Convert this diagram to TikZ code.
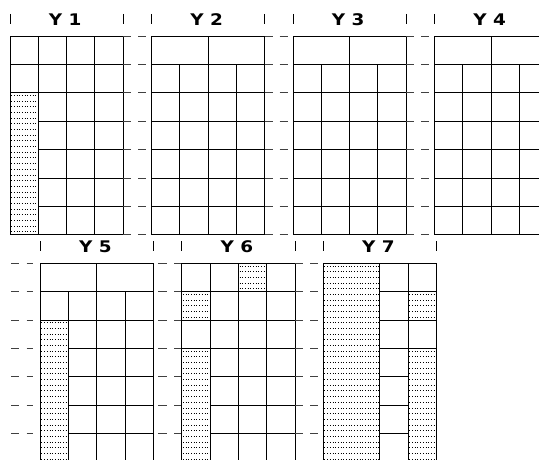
\documentclass[tikz,border=0pt]{standalone}
\usepackage{fontspec}
\setsansfont{DejaVu Sans}
\usepackage{graphicx}
\usepackage{tikz}

% dotted fill of a merged cell, in cell units
\newcommand\dotbox[4]{%
  \begin{scope}
    \clip (#1,#2) rectangle (#3,#4);
    \foreach \i [evaluate=\i as \yy using #2+0.09+0.2*\i] in {0,...,35}
      \draw[dots] (#1+0.04,\yy) -- (#3,\yy);
  \end{scope}}
% title with its two ticks
\newcommand\panelhead[1]{%
  \draw[lbltick] (0,-0.78) -- (0,-0.42) (4,-0.78) -- (4,-0.42);
  \node[lbl] (y#1) at (1.95,-0.58) {\scalebox{1.15}[1]{Y #1}};}

\begin{document}
\begin{tikzpicture}[x=1pt, y=-1pt,
  cell/.style={x=28.3pt, y=-28.4pt},
  ln/.style={line width=0.9pt},
  gapln/.style={line width=0.9pt, black!75},
  lbltick/.style={line width=0.9pt},
  dots/.style={line width=0.7pt, dash pattern=on 0.8pt off 1.9pt},
  lbl/.style={font=\sffamily\bfseries\fontsize{16}{16}\selectfont, inner sep=0pt}]
\useasboundingbox (0,0) rectangle (539,459);
\clip (0,0) rectangle (539,459);

% upper row
\begin{scope}[shift={(10,36)}, cell]
  \dotbox{0}{2}{1}{7}
  \draw[ln] (0,0) rectangle (4,7);
  \foreach \c in {1,2,3} \draw[ln] (\c,0) -- (\c,7);
  \foreach \r in {1,2} \draw[ln] (0,\r) -- (4,\r);
  \foreach \r in {3,...,6} \draw[ln] (1,\r) -- (4,\r);
  \panelhead{1}
\end{scope}
\foreach \k in {2,3,4} {
  \begin{scope}[shift={(10+141.5*\k-141.5,36)}, cell]
    \foreach \j in {0,...,7}
      \draw[gapln] (-1,\j) -- (-0.71,\j) (-0.47,\j) -- (-0.18,\j);
    \draw[ln] (0,0) rectangle (4,7) (2,0) -- (2,7);
    \foreach \c in {1,3} \draw[ln] (\c,1) -- (\c,7);
    \foreach \r in {1,...,6} \draw[ln] (0,\r) -- (4,\r);
    \panelhead{\k}
  \end{scope}
}

% lower row
\begin{scope}[shift={(40.3,263.3)}, cell]
  \foreach \j in {0,...,7}
    \draw[gapln] (-1.03,\j) -- (-0.74,\j) (-0.48,\j) -- (-0.25,\j);
  \dotbox{0}{2}{1}{7}
  \draw[ln] (0,0) rectangle (4,7) (2,0) -- (2,7) (1,1) -- (1,7) (3,1) -- (3,7);
  \foreach \r in {1,2} \draw[ln] (0,\r) -- (4,\r);
  \foreach \r in {3,...,6} \draw[ln] (1,\r) -- (4,\r);
  \panelhead{5}
\end{scope}
\begin{scope}[shift={(181.8,263.3)}, cell]
  \foreach \j in {0,...,7}
    \draw[gapln] (-0.83,\j) -- (-0.53,\j) (-0.27,\j) -- (0,\j);
  \dotbox{2}{0}{3}{1}
  \dotbox{0}{1}{1}{2}
  \dotbox{0}{3}{1}{7}
  \draw[ln] (0,0) rectangle (4,7);
  \foreach \c in {1,2,3} \draw[ln] (\c,0) -- (\c,7);
  \foreach \r in {1,2,3} \draw[ln] (0,\r) -- (4,\r);
  \foreach \r in {4,5,6} \draw[ln] (1,\r) -- (4,\r);
  \draw[ln] (2,0) rectangle (3,1);
  \panelhead{6}
\end{scope}
\begin{scope}[shift={(323.3,263.3)}, cell]
  \foreach \j in {0,...,7}
    \draw[gapln] (-1,\j) -- (-0.71,\j) (-0.47,\j) -- (-0.18,\j);
  \dotbox{0}{0}{2}{7}
  \dotbox{3}{1}{4}{2}
  \dotbox{3}{3}{4}{7}
  \draw[ln] (0,0) rectangle (4,7) (2,0) -- (2,7) (3,0) -- (3,7);
  \foreach \r in {1,...,6} \draw[ln] (2,\r) -- (3,\r);
  \foreach \r in {1,2,3} \draw[ln] (3,\r) -- (4,\r);
  \panelhead{7}
\end{scope}
\end{tikzpicture}
\end{document}
